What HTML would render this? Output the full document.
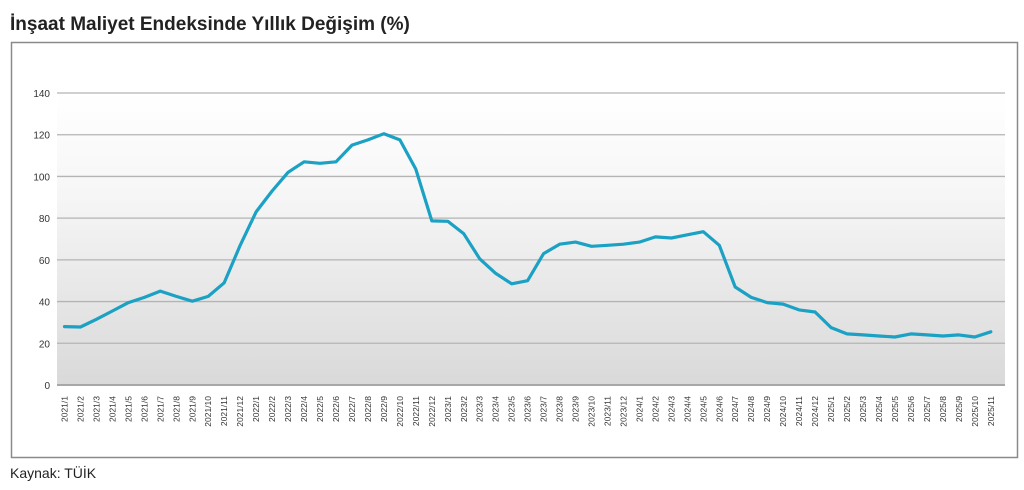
<!DOCTYPE html>
<html><head><meta charset="utf-8"><style>
body{margin:0;background:#fff;width:1024px;height:485px;overflow:hidden;font-family:"Liberation Sans",sans-serif}
</style></head><body>
<svg id="s" width="1024" height="485" xmlns="http://www.w3.org/2000/svg">
<defs><linearGradient id="g" x1="0" y1="0" x2="0" y2="1">
<stop offset="0" stop-color="#ffffff"/><stop offset="0.35" stop-color="#f6f6f6"/><stop offset="1" stop-color="#d9d9d9"/></linearGradient></defs>
<text x="10" y="30" font-size="19" font-weight="bold" fill="#222">İnşaat Maliyet Endeksinde Yıllık Değişim (%)</text>
<rect x="11.5" y="42.5" width="1006" height="415" fill="#fff" stroke="#8a8a8a" stroke-width="1.5"/>
<rect x="57" y="93" width="948" height="292" fill="url(#g)"/>
<g id="grid"></g>
<polyline id="ln" fill="none" stroke="#1ba1c4" stroke-width="3.2" stroke-linejoin="round" stroke-linecap="round"/>
<g id="xl" font-size="8.5" fill="#333"></g>
<text x="10" y="478" font-size="14" fill="#222">Kaynak: TÜİK</text>
</svg>
<script>
var ns="http://www.w3.org/2000/svg";
var d=[28,27.8,31.5,35.5,39.5,42,45,42.5,40.2,42.5,49,67,
83,93,102,107,106.3,107,115,117.5,120.5,117.5,103.5,78.7,
78.5,72.5,60.5,53.5,48.5,50,63,67.5,68.5,66.5,67,67.5,
68.5,71,70.5,72,73.5,67,47,42,39.5,38.8,36,35,
27.5,24.5,24,23.5,23,24.5,24,23.5,24,23,25.5];
function Y(v){return 385-v*292/140;}
function X(i){return 64.5+i*15.97;}
var g=document.getElementById('grid');
for(var v=0;v<=140;v+=20){var y=Y(v);
var l=document.createElementNS(ns,'line');l.setAttribute('x1',57);l.setAttribute('x2',1005);l.setAttribute('y1',y);l.setAttribute('y2',y);
l.setAttribute('stroke',v==0?'#a8a8a8':'#b4b4b4');l.setAttribute('stroke-width',v==0?2:1.3);g.appendChild(l);
var t=document.createElementNS(ns,'text');t.setAttribute('x',50);t.setAttribute('y',y+4);t.setAttribute('text-anchor','end');t.setAttribute('font-size','10');t.setAttribute('fill','#333');t.textContent=v;g.appendChild(t);}
var p=[];for(var i=0;i<d.length;i++)p.push(X(i).toFixed(1)+','+Y(d[i]).toFixed(1));
document.getElementById('ln').setAttribute('points',p.join(' '));
var xl=document.getElementById('xl');
for(var i=0;i<59;i++){var yr=2021+Math.floor(i/12),m=i%12+1;
var t=document.createElementNS(ns,'text');var x=X(i)+3;
t.setAttribute('transform','translate('+x+',396) rotate(-90)');t.setAttribute('text-anchor','end');t.textContent=yr+'/'+m;xl.appendChild(t);}
</script>
</body></html>
